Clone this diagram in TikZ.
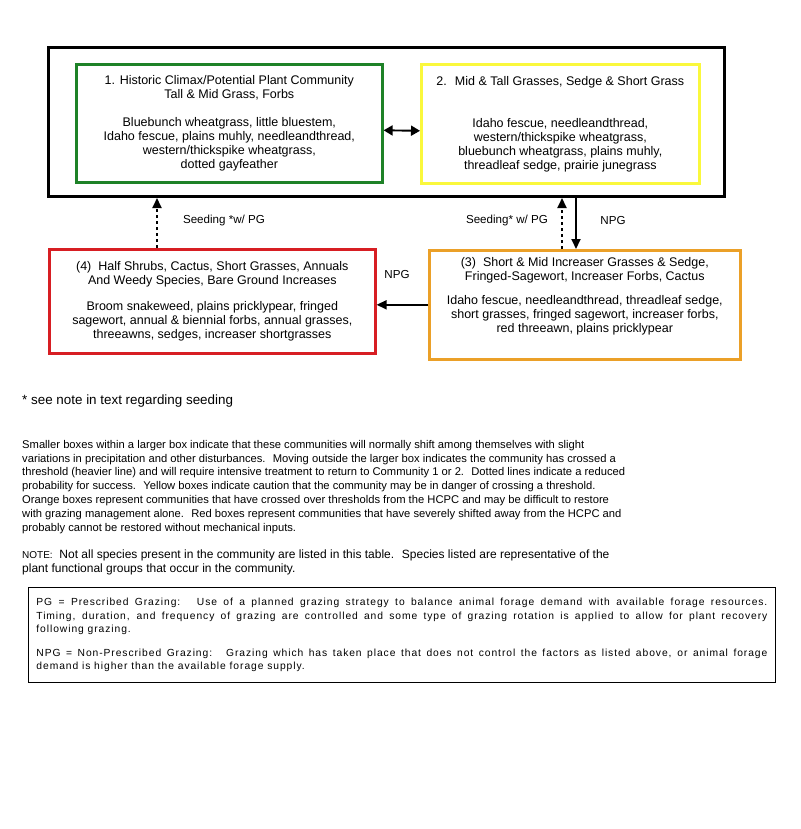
\documentclass[tikz,border=0pt]{standalone}
\usepackage{fontspec}
\setmainfont{Liberation Sans}
\newfontfamily\legendfont[LetterSpace=9]{Liberation Sans}
\usetikzlibrary{arrows.meta,calc}
\definecolor{cgreen}{RGB}{30,130,40}
\definecolor{cyellow}{RGB}{250,248,60}
\definecolor{cred}{RGB}{215,30,35}
\definecolor{corange}{RGB}{235,160,40}
\tikzset{
  box/.style={draw, line width=2.6pt, inner sep=0pt, align=center, anchor=north west,
    font=\fontsize{12.5}{14}\selectfont},
  solidarrow/.style={line width=1.9pt, -{Triangle[length=10pt,width=9pt]}},
  dblarrow/.style={line width=1.9pt, {Triangle[length=9pt,width=10pt]}-{Triangle[length=9pt,width=10pt]}},
  dasharrow/.style={line width=1.9pt, dash pattern=on 3.5pt off 2.5pt, -{Triangle[length=10pt,width=9pt]}},
  lbl/.style={inner sep=0pt, font=\fontsize{11.6}{12}\selectfont},
  para/.style={inner sep=0pt, anchor=north west, align=left, font=\fontsize{11.2}{13.8}\selectfont},
}
\begin{document}
\begin{tikzpicture}[x=1pt,y=-1pt]
\useasboundingbox[fill=white] (0,0) rectangle (800,829);

\node[draw, line width=3pt, minimum width=676, minimum height=149, anchor=north west] (outer) at (47,46) {};

\node[box, draw=cgreen, minimum width=306, minimum height=118] (green) at (75,63)
 {1. Historic Climax/Potential Plant Community\\ Tall \& Mid Grass, Forbs\\[14pt]
  Bluebunch wheatgrass, little bluestem,\\ Idaho fescue, plains muhly, needleandthread,\\
  western/thickspike wheatgrass,\\ dotted gayfeather};

\node[box, draw=cyellow, minimum width=278, minimum height=119] (yellow) at (420,63)
 {2.~ Mid \& Tall Grasses, Sedge \& Short Grass\\[28pt]
  Idaho fescue, needleandthread,\\ western/thickspike wheatgrass,\\
  bluebunch wheatgrass, plains muhly,\\ threadleaf sedge, prairie junegrass};

\node[box, draw=cred, minimum width=326, minimum height=104] (red) at (48,248)
 {(4)~ Half Shrubs, Cactus, Short Grasses, Annuals\\ And Weedy Species, Bare Ground Increases\\[12pt]
  Broom snakeweed, plains pricklypear, fringed\\ sagewort, annual \& biennial forbs, annual grasses,\\
  threeawns, sedges, increaser shortgrasses};

\node[box, draw=corange, minimum width=311, minimum height=109] (orange) at (428,249)
 {(3)~ Short \& Mid Increaser Grasses \& Sedge,\\ Fringed-Sagewort, Increaser Forbs, Cactus\\[10pt]
  Idaho fescue, needleandthread, threadleaf sedge,\\ short grasses, fringed sagewort, increaser forbs,\\
  red threeawn, plains pricklypear\\[5pt]};

% connectors
\draw[dblarrow] ($(green.east)+(0,7)$) -- ($(yellow.west)+(0,7)$);
\coordinate (r1) at ($(red.north west)+(109,0)$);
\draw[dasharrow] (r1) -- (r1 |- outer.south);
\coordinate (o1) at ($(orange.north west)+(134,0)$);
\draw[dasharrow] (o1) -- (o1 |- outer.south);
\coordinate (o2) at ($(orange.north west)+(148,0)$);
\draw[solidarrow] (o2 |- outer.south) -- (o2);
\draw[solidarrow] (orange.west) -- (orange.west -| red.east);

\node[lbl] (l1) at (224,221) {Seeding *w/ PG};
\node[lbl] (l2) at (507,221) {Seeding* w/ PG};
\node[lbl] (l3) at (613,221) {NPG};
\node[lbl] (l4) at (397,275) {NPG};

\node[inner sep=0pt, anchor=west, font=\fontsize{13.4}{15}\selectfont] (note) at (22,401)
 {* see note in text regarding seeding};

\node[para] (para) at (22,440)
 {Smaller boxes within a larger box indicate that these communities will normally shift among themselves with slight\\
  variations in precipitation and other disturbances.~ Moving outside the larger box indicates the community has crossed a\\
  threshold (heavier line) and will require intensive treatment to return to Community 1 or 2.~ Dotted lines indicate a reduced\\
  probability for success.~ Yellow boxes indicate caution that the community may be in danger of crossing a threshold.\\
  Orange boxes represent communities that have crossed over thresholds from the HCPC and may be difficult to restore\\
  with grazing management alone.~ Red boxes represent communities that have severely shifted away from the HCPC and\\
  probably cannot be restored without mechanical inputs.};

\node[para, font=\fontsize{12}{13.5}\selectfont] (nt) at (22,550)
 {{\fontsize{10}{13.5}\selectfont NOTE:}~ Not all species present in the community are listed in this table.~ Species listed are representative of the\\
  plant functional groups that occur in the community.};

\node[draw, line width=0.9pt, anchor=north west, minimum width=747, minimum height=95,
  text width=731, inner xsep=8pt, align=justify, font=\legendfont\fontsize{10.3}{13.6}\selectfont] (legend) at (28,587)
 {PG = Prescribed Grazing:~ Use of a planned grazing strategy to balance animal forage demand with available forage resources.\linebreak
  Timing, duration, and frequency of grazing are controlled and some type of grazing rotation is applied to allow for plant recovery\linebreak
  following grazing.\\[10pt]
  NPG = Non-Prescribed Grazing:~ Grazing which has taken place that does not control the factors as listed above, or animal forage\linebreak
  demand is higher than the available forage supply.};
\end{tikzpicture}
\end{document}
